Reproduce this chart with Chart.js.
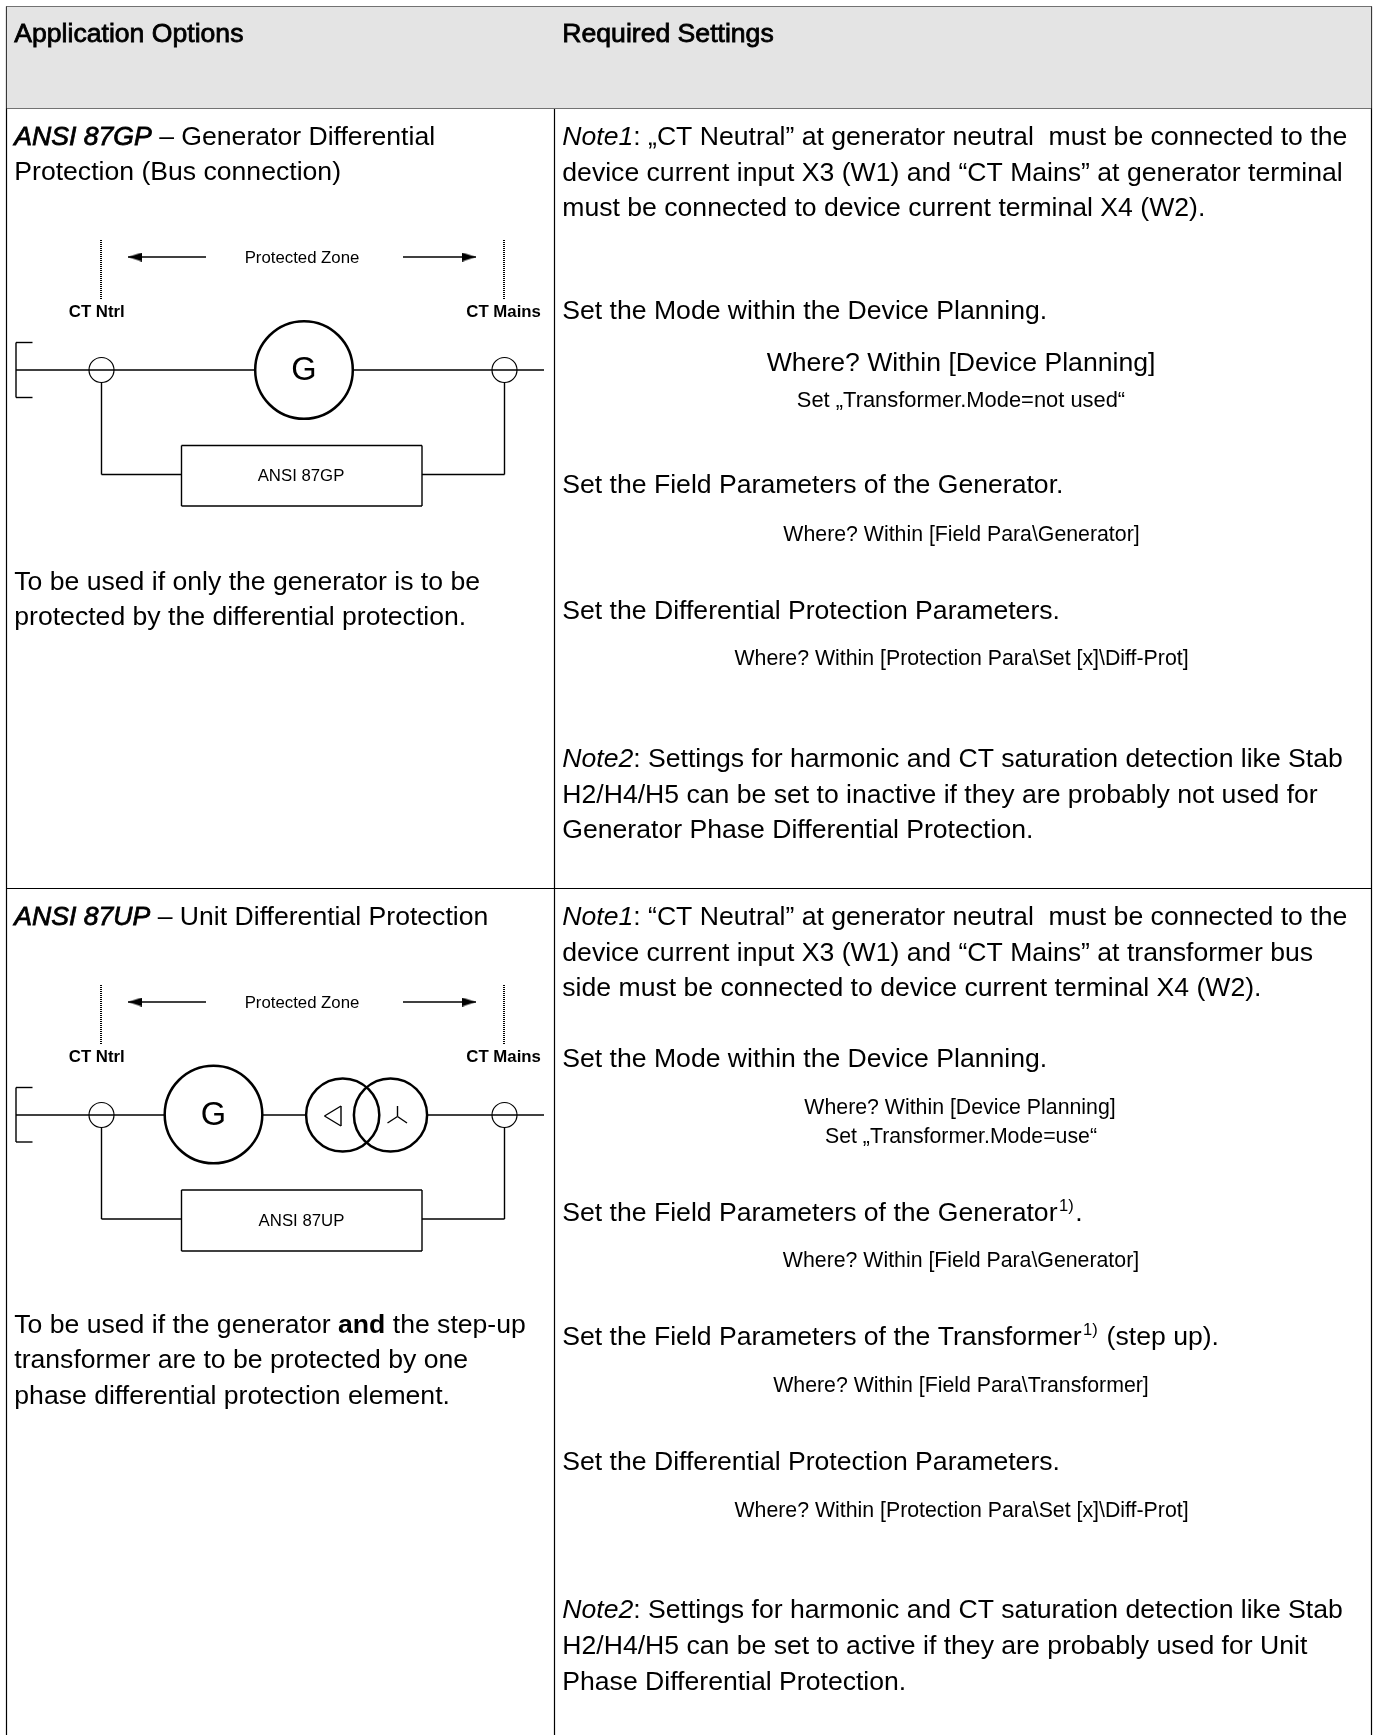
<!DOCTYPE html>
<html>
<head>
<meta charset="utf-8">
<title>Application Options</title>
<script src="https://cdn.jsdelivr.net/npm/chart.js@4"></script>
<style>
  html, body { margin: 0; padding: 0; background: #fff; }
  canvas { display: block; }
</style>
</head>
<body>
<canvas id="sheet" width="1373" height="1735"></canvas>
<script>
// cell text, one entry per printed line
const headerText = ['Application Options', 'Required Settings'];

const gpTitle = [
    [['ANSI 87GP', 'hi'], [' \u2013 Generator Differential', '']],
    'Protection (Bus connection)'
];
const gpUsage = [
    'To be used if only the generator is to be',
    'protected by the differential protection.'
];
const upTitle = [
    [['ANSI 87UP', 'hi'], [' \u2013 Unit Differential Protection', '']]
];
const upUsage = [
    [['To be used if the generator ', ''], ['and', 'b'], [' the step-up', '']],
    'transformer are to be protected by one',
    'phase differential protection element.'
];

const gpNote1 = [
    [['Note1', 'i'], [': \u201eCT Neutral\u201d at generator neutral  must be connected to the', '']],
    'device current input X3 (W1) and \u201cCT Mains\u201d at generator terminal',
    'must be connected to device current terminal X4 (W2).'
];
const gpSteps = [
    'Set the Mode within the Device Planning.',
    'Set the Field Parameters of the Generator.',
    'Set the Differential Protection Parameters.'
];
const gpNote2 = [
    [['Note2', 'i'], [': Settings for harmonic and CT saturation detection like Stab', '']],
    'H2/H4/H5 can be set to inactive if they are probably not used for',
    'Generator Phase Differential Protection.'
];
const upNote1 = [
    [['Note1', 'i'], [': \u201cCT Neutral\u201d at generator neutral  must be connected to the', '']],
    'device current input X3 (W1) and \u201cCT Mains\u201d at transformer bus',
    'side must be connected to device current terminal X4 (W2).'
];
const upSteps = [
    'Set the Mode within the Device Planning.',
    [['Set the Field Parameters of the Generator', ''], ['1)', 's'], ['.', '']],
    [['Set the Field Parameters of the Transformer', ''], ['1)', 's'], [' (step up).', '']],
    'Set the Differential Protection Parameters.'
];
const upNote2 = [
    [['Note2', 'i'], [': Settings for harmonic and CT saturation detection like Stab', '']],
    'H2/H4/H5 can be set to active if they are probably used for Unit',
    'Phase Differential Protection.'
];

const whereDevicePlanning = 'Where? Within [Device Planning]';
const whereGenerator = 'Where? Within [Field Para\\Generator]';
const whereTransformer = 'Where? Within [Field Para\\Transformer]';
const whereDiff = 'Where? Within [Protection Para\\Set [x]\\Diff-Prot]';
const setNotUsed = 'Set \u201eTransformer.Mode=not used\u201c';
const setUse = 'Set \u201eTransformer.Mode=use\u201c';

// table rules, as [x1, y1, x2, y2]
const tableRules = [
    [6.5, 6.5, 1371.5, 6.5], [6.5, 108.5, 1371.5, 108.5], [6.5, 888.5, 1371.5, 888.5],
    [6.5, 6.5, 6.5, 1735], [554.5, 6.5, 554.5, 1735], [1371.5, 6.5, 1371.5, 1735]
];
const headerBand = [[6.5, 6.5], [1371.5, 6.5]];
const headerBandBottom = 108.5;

// single line diagrams
const gpWires = [
    [16, 342.5, 32.5, 342.5], [16, 397.5, 32.5, 397.5], [16, 342.5, 16, 397.5],
    [16, 370, 255, 370], [354, 370, 544, 370],
    [101.5, 382, 101.5, 474.5], [101.5, 474.5, 181.5, 474.5],
    [422, 474.5, 504.5, 474.5], [504.5, 382, 504.5, 474.5],
    [181.5, 445.5, 422, 445.5], [181.5, 506, 422, 506], [181.5, 445.5, 181.5, 506], [422, 445.5, 422, 506],
    [128, 257, 206, 257], [403, 257, 476, 257]
];
const upWires = [
    [16, 1087.5, 32.5, 1087.5], [16, 1142, 32.5, 1142], [16, 1087.5, 16, 1142],
    [16, 1115, 164, 1115], [263, 1115, 306, 1115], [428, 1115, 544, 1115],
    [101.5, 1127, 101.5, 1219], [101.5, 1219, 181.5, 1219],
    [422, 1219, 504.5, 1219], [504.5, 1127, 504.5, 1219],
    [181.5, 1190, 422, 1190], [181.5, 1251, 422, 1251], [181.5, 1190, 181.5, 1251], [422, 1190, 422, 1251],
    [128, 1002, 206, 1002], [403, 1002, 476, 1002],
    // delta and star symbols
    [341, 1106, 341, 1126], [341, 1126, 324.5, 1116], [324.5, 1116, 341, 1106],
    [397.5, 1116.5, 397.5, 1106], [397.5, 1116.5, 387.5, 1123], [397.5, 1116.5, 407, 1123]
];
const ctFences = [
    [101, 240, 101, 300], [504, 240, 504, 300],
    [101, 985, 101, 1045], [504, 985, 504, 1045]
];

const currentTransformers = [[101.5, 370], [504.5, 370], [101.5, 1115], [504.5, 1115]];
const generators = [[304, 370], [213.5, 1114.5]];
const transformerWindings = [[342.7, 1115], [390.5, 1115]];
const arrowsLeft = [[135, 257], [135, 1002]];
const arrowsRight = [[469, 257], [469, 1002]];

const FONT = '"Liberation Sans", Arial, sans-serif';
const BODY = 26.6;
const SMALL = 21.3;
const TINY = 16.8;

function points(list) {
    return list.map(p => ({ x: p[0], y: p[1] }));
}

function wireDatasets(list, width, dash) {
    return list.map(s => ({
        data: [{ x: s[0], y: s[1] }, { x: s[2], y: s[3] }],
        showLine: true,
        borderColor: '#000',
        borderWidth: width,
        borderDash: dash || [],
        pointRadius: 0
    }));
}

function markDataset(list, radius, width) {
    return {
        data: points(list),
        pointStyle: 'circle',
        pointRadius: radius,
        pointBorderWidth: width,
        pointBorderColor: '#000',
        pointBackgroundColor: 'rgba(0,0,0,0)'
    };
}

function arrowHead() {
    const c = document.createElement('canvas');
    c.width = 14;
    c.height = 9;
    const g = c.getContext('2d');
    g.fillStyle = '#000';
    g.beginPath();
    g.moveTo(0, 4.5);
    g.lineTo(14, 0);
    g.lineTo(14, 9);
    g.closePath();
    g.fill();
    return c;
}

const head = arrowHead();

function arrowDataset(list, rotation) {
    return {
        data: points(list),
        pointStyle: head,
        pointRotation: rotation,
        pointRadius: 7
    };
}

// where each line of text sits
const textBlocks = [
    { lines: [headerText[0]], x: 14.3, ys: [42.3], size: BODY, run: 'h' },
    { lines: [headerText[1]], x: 562.3, ys: [42.3], size: BODY, run: 'h' },
    { lines: gpTitle, x: 14.3, ys: [145, 180.3], size: BODY },
    { lines: gpUsage, x: 14.3, ys: [590, 625], size: BODY },
    { lines: upTitle, x: 14.3, ys: [925], size: BODY },
    { lines: upUsage, x: 14.3, ys: [1333.3, 1368.3, 1404.3], size: BODY },
    { lines: gpNote1, x: 562.3, ys: [145, 180.6, 215.7], size: BODY },
    { lines: gpSteps, x: 562.3, ys: [319, 493.3, 618.5], size: BODY },
    { lines: gpNote2, x: 562.3, ys: [766.7, 802.7, 838.3], size: BODY },
    { lines: upNote1, x: 562.3, ys: [925, 960.5, 996], size: BODY },
    { lines: upSteps, x: 562.3, ys: [1067, 1220.7, 1345, 1470], size: BODY },
    { lines: upNote2, x: 562.3, ys: [1618.3, 1654.3, 1690], size: BODY },
    { lines: [whereDevicePlanning], x: 961, ys: [371], size: BODY, center: true },
    { lines: [setNotUsed], x: 961, ys: [406.7], size: 21.9, center: true },
    { lines: [whereGenerator], x: 961.5, ys: [540.7], size: SMALL, center: true },
    { lines: [whereDiff], x: 961.5, ys: [665], size: SMALL, center: true },
    { lines: [whereDevicePlanning], x: 960, ys: [1114], size: SMALL, center: true },
    { lines: [setUse], x: 961, ys: [1142.7], size: SMALL, center: true },
    { lines: [whereGenerator], x: 961, ys: [1267.3], size: SMALL, center: true },
    { lines: [whereTransformer], x: 961, ys: [1391.7], size: SMALL, center: true },
    { lines: [whereDiff], x: 961.5, ys: [1517], size: SMALL, center: true },
    { lines: ['Protected Zone'], x: 302, ys: [263], size: TINY, center: true },
    { lines: ['Protected Zone'], x: 302, ys: [1008], size: TINY, center: true },
    { lines: ['CT Ntrl'], x: 96.8, ys: [316.7], size: TINY, center: true, run: 'b' },
    { lines: ['CT Mains'], x: 503.6, ys: [316.7], size: TINY, center: true, run: 'b' },
    { lines: ['CT Ntrl'], x: 96.8, ys: [1061.7], size: TINY, center: true, run: 'b' },
    { lines: ['CT Mains'], x: 503.6, ys: [1061.7], size: TINY, center: true, run: 'b' },
    { lines: ['G'], x: 304, ys: [380], size: 32.6, center: true },
    { lines: ['G'], x: 213.5, ys: [1124.7], size: 32.6, center: true },
    { lines: ['ANSI 87GP'], x: 301, ys: [481], size: TINY, center: true },
    { lines: ['ANSI 87UP'], x: 301.5, ys: [1225.7], size: TINY, center: true }
];

function runFont(kind, size) {
    if (kind === 'b') return 'bold ' + size + 'px ' + FONT;
    if (kind === 'i' || kind === 'hi') return 'italic ' + size + 'px ' + FONT;
    if (kind === 's') return (size * 0.62) + 'px ' + FONT;
    return size + 'px ' + FONT;
}

const cellText = {
    id: 'cellText',
    afterDraw(chart) {
        const { ctx, scales } = chart;
        ctx.save();
        ctx.fillStyle = '#000';
        ctx.strokeStyle = '#000';
        ctx.lineWidth = 0.8;
        ctx.textBaseline = 'alphabetic';
        ctx.textAlign = 'left';
        textBlocks.forEach(block => {
            block.lines.forEach((line, i) => {
                const runs = typeof line === 'string' ? [[line, block.run || '']] : line;
                let x = scales.x.getPixelForValue(block.x);
                const y = scales.y.getPixelForValue(block.ys[i]);
                if (block.center) {
                    let w = 0;
                    runs.forEach(r => {
                        ctx.font = runFont(r[1], block.size);
                        w += ctx.measureText(r[0]).width;
                    });
                    x -= w / 2;
                }
                runs.forEach(r => {
                    ctx.font = runFont(r[1], block.size);
                    const rise = r[1] === 's' ? block.size * 0.37 : 0;
                    const pad = r[1] === 's' ? 1.5 : 0;
                    ctx.fillText(r[0], x + pad, y - rise);
                    if (r[1] === 'h' || r[1] === 'hi') ctx.strokeText(r[0], x, y);
                    x += ctx.measureText(r[0]).width + pad * 2;
                });
            });
        });
        ctx.restore();
    }
};

new Chart(document.getElementById('sheet'), {
    type: 'scatter',
    data: {
        datasets: [
            {
                data: points(headerBand),
                showLine: true,
                borderWidth: 0,
                pointRadius: 0,
                backgroundColor: '#e4e4e4',
                fill: { value: headerBandBottom }
            },
            ...wireDatasets(tableRules, 1.2),
            ...wireDatasets(gpWires, 1.4),
            ...wireDatasets(upWires, 1.4),
            ...wireDatasets(ctFences, 2, [1, 1]),
            markDataset(currentTransformers, 12.5, 1.2),
            markDataset(generators, 48.8, 2.5),
            markDataset(transformerWindings, 36.6, 2.5),
            arrowDataset(arrowsLeft, 0),
            arrowDataset(arrowsRight, 180)
        ]
    },
    options: {
        responsive: false,
        animation: false,
        events: [],
        layout: { padding: 0, autoPadding: false },
        plugins: {
            legend: { display: false },
            tooltip: { enabled: false },
            title: { display: false }
        },
        scales: {
            x: { type: 'linear', display: false, min: 0, max: 1373 },
            y: { type: 'linear', display: false, min: 0, max: 1735, reverse: true }
        }
    },
    plugins: [cellText]
});
</script>
</body>
</html>
